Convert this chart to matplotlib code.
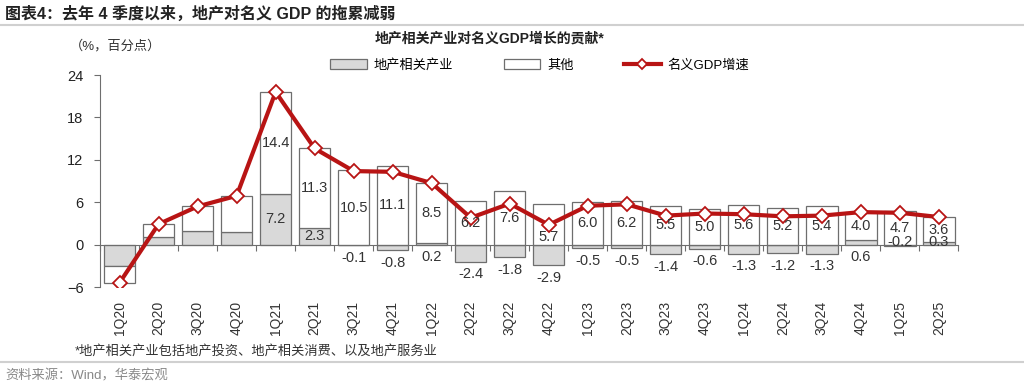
import matplotlib.pyplot as plt
import numpy as np
from matplotlib.lines import Line2D
from matplotlib.transforms import blended_transform_factory

plt.rcParams['font.family'] = ['Liberation Sans', 'Noto Sans CJK SC']

quarters = ["1Q20", "2Q20", "3Q20", "4Q20", "1Q21", "2Q21", "3Q21", "4Q21",
            "1Q22", "2Q22", "3Q22", "4Q22", "1Q23", "2Q23", "3Q23", "4Q23",
            "1Q24", "2Q24", "3Q24", "4Q24", "1Q25", "2Q25"]
# 地产相关产业 contribution
property_contrib = [-3.0, 1.1, 1.9, 1.8, 7.2, 2.3, -0.1, -0.8, 0.2, -2.4, -1.8,
                    -2.9, -0.5, -0.5, -1.4, -0.6, -1.3, -1.2, -1.3, 0.6, -0.2, 0.3]
# 其他 contribution
other_contrib = [-2.4, 1.8, 3.5, 5.1, 14.4, 11.3, 10.5, 11.1, 8.5, 6.2, 7.6,
                 5.7, 6.0, 6.2, 5.5, 5.0, 5.6, 5.2, 5.4, 4.0, 4.7, 3.6]
# 名义GDP增速
gdp_growth = [-5.4, 2.9, 5.4, 6.9, 21.6, 13.6, 10.4, 10.3, 8.7, 3.8, 5.8,
              2.8, 5.5, 5.7, 4.1, 4.4, 4.3, 4.0, 4.1, 4.6, 4.5, 3.9]
labeled_from = 4  # first quarters carry no value labels

prop = np.array(property_contrib)
other = np.array(other_contrib)
gdp = np.array(gdp_growth)
x = np.arange(len(quarters))

# stacking: positives stack on positives, negatives on negatives
other_bottom = np.where(np.sign(other) == np.sign(prop), prop, 0.0)

fig = plt.figure(figsize=(10.24, 3.88), dpi=100)
ax = fig.add_axes([0.0977, 0.2603, 0.8383, 0.5464])

edge = "#6e6e6e"
b1 = ax.bar(x, prop, width=0.8, color="#d9d9d9", edgecolor=edge, linewidth=0.9,
            label="地产相关产业", zorder=2)
b2 = ax.bar(x, other, width=0.8, bottom=other_bottom, color="white",
            edgecolor=edge, linewidth=0.9, label="其他", zorder=2)
ln, = ax.plot(x, gdp, color="#b81414", linewidth=3, marker="D", markersize=7,
              markerfacecolor="white", markeredgecolor="#b81414",
              markeredgewidth=1.3, label="名义GDP增速", zorder=4)

# value labels
lab = dict(fontsize=10.5, color="#333333", zorder=5, ha="center")
for i in range(labeled_from, len(quarters)):
    mid = other_bottom[i] + other[i] / 2
    if abs(mid - gdp[i]) < 0.5:  # keep clear of the line marker
        mid = other_bottom[i] + other[i] * 0.2
    ax.annotate(f"{other[i]:.1f}", (x[i], mid), va="center", **lab)
    p = prop[i]
    if p >= 1:
        ax.annotate(f"{p:.1f}", (x[i], p / 2), va="center", **lab)
    elif i >= len(quarters) - 2:
        ax.annotate(f"{p:.1f}", (x[i], 0), xytext=(0, 2),
                    textcoords="offset points", va="center", **lab)
    else:
        ax.annotate(f"{p:.1f}", (x[i], min(p, 0)), xytext=(0, -4),
                    textcoords="offset points", va="top", **lab)

ax.set_xlim(-0.5, len(quarters) - 0.5)
ax.set_ylim(-6, 24)
ax.set_yticks(np.arange(-6, 25, 6))
ax.tick_params(axis="y", direction="out", length=4, color=edge, labelsize=10.5,
               labelcolor="#222222", pad=8)

for s in ["top", "right"]:
    ax.spines[s].set_visible(False)
ax.spines["left"].set_color(edge)
ax.spines["bottom"].set_position(("data", 0))
ax.spines["bottom"].set_color(edge)
ax.set_xticks(np.arange(-0.5, len(quarters), 1))
ax.set_xticklabels([])
ax.tick_params(axis="x", direction="out", length=4, color=edge)

trans = blended_transform_factory(ax.transData, ax.transAxes)
for i, q in enumerate(quarters):
    ax.text(x[i], -0.065, q, transform=trans, rotation=90, ha="center", va="top",
            fontsize=10, color="#333333")

fig.legend(handles=[b1, b2, ln], loc="center", bbox_to_anchor=(0.527, 0.832),
           ncol=3, frameon=False, handlelength=2.8, handleheight=0.8,
           handletextpad=0.5, columnspacing=3.8, fontsize=9.5, markerscale=0.8)

fig.text(0.005, 0.965, "图表4：去年 4 季度以来，地产对名义 GDP 的拖累减弱",
         fontsize=11.5, fontweight="bold", color="#222222", va="center")
fig.add_artist(Line2D([0, 1], [0.935, 0.935], color="#d0d0d0", linewidth=1.5))
fig.text(0.068, 0.882, "（%，百分点）", fontsize=9.5, color="#333333", va="center")
fig.text(0.478, 0.902, "地产相关产业对名义GDP增长的贡献*", fontsize=10,
         fontweight="bold", color="#222222", ha="center", va="center")
fig.text(0.073, 0.095, "*地产相关产业包括地产投资、地产相关消费、以及地产服务业",
         fontsize=9.5, color="#333333", va="center")
fig.add_artist(Line2D([0, 1], [0.067, 0.067], color="#d0d0d0", linewidth=1.5))
fig.text(0.005, 0.032, "资料来源：Wind，华泰宏观", fontsize=9.5, color="#888888",
         va="center")

fig.savefig("out.png", dpi=100)
